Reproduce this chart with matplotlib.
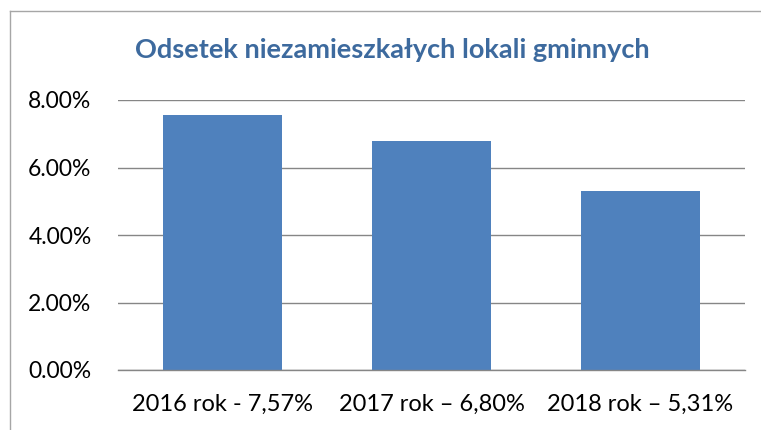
# Odsetek niezamieszkałych lokali gminnych - wykres słupkowy

import matplotlib
matplotlib.use('Agg')
import matplotlib.pyplot as plt
from matplotlib.ticker import FuncFormatter, MultipleLocator
from matplotlib.lines import Line2D

labels = ['2016 rok - 7,57%', '2017 rok – 6,80%', '2018 rok – 5,31%']
values = [7.57, 6.80, 5.31]

plt.rcParams['font.family'] = ['Lato', 'DejaVu Sans']

fig = plt.figure(figsize=(7.61, 4.30), dpi=100)
ax = fig.add_axes([118 / 761, 1 - 370 / 430, (745 - 118) / 761, 270 / 430])

ax.bar(range(len(values)), values, width=0.57, color='#4F81BD', zorder=2)

ax.set_xlim(-0.5, len(values) - 0.5)
ax.set_ylim(0, 8)
ax.yaxis.set_major_locator(MultipleLocator(2))
ax.yaxis.set_major_formatter(FuncFormatter(lambda v, p: f'{v:.2f}%'))
ax.set_xticks(range(len(values)))
ax.set_xticklabels(labels)
ax.tick_params(axis='both', length=0, colors='black')
ax.tick_params(axis='y', pad=19, labelsize=16.5)
ax.tick_params(axis='x', pad=17, labelsize=17)

ax.grid(axis='y', color='#868686', linewidth=1, zorder=0)
ax.set_axisbelow(True)
for side in ['left', 'right', 'top']:
    ax.spines[side].set_visible(False)
ax.spines['bottom'].set_color('#868686')
ax.spines['bottom'].set_linewidth(1)

fig.text(392 / 761, 1 - 50 / 430, 'Odsetek niezamieszkałych lokali gminnych',
         ha='center', va='center', fontsize=19.5, fontweight='bold', color='#3D6A9E')

# ramka wykresu (lewa i górna krawędź)
fig.add_artist(Line2D([10 / 761, 10 / 761], [0, 1 - 11 / 430],
                      transform=fig.transFigure, color='#A6A6A6', linewidth=1))
fig.add_artist(Line2D([10 / 761, 1], [1 - 11 / 430, 1 - 11 / 430],
                      transform=fig.transFigure, color='#A6A6A6', linewidth=1))

fig.savefig('out.png', dpi=100)
